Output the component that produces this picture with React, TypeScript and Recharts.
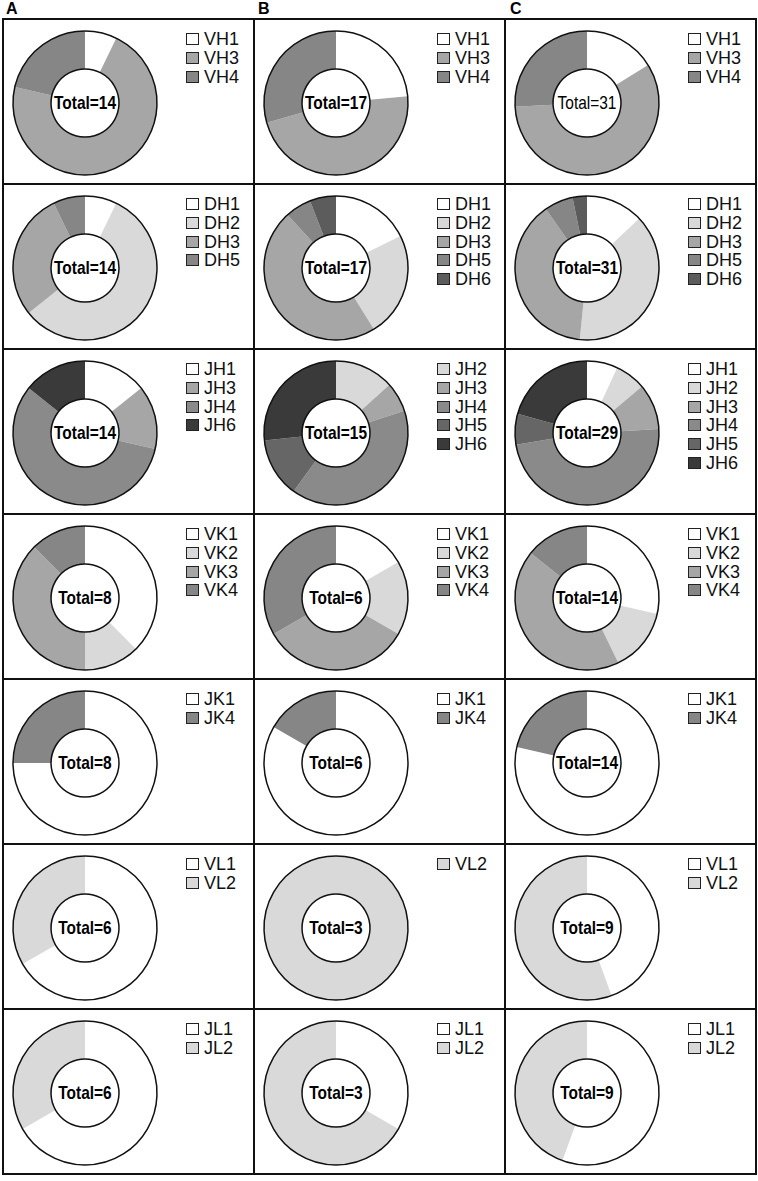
import React from "react";
import { PieChart, Pie, Cell, Legend } from "recharts";

const FONT = "'Liberation Sans', Arial, Helvetica, sans-serif";

const columnLabels = ["A", "B", "C"];

const vhLabels = ["VH1", "VH3", "VH4"];
const vhA = [1, 10, 3];
const vhB = [4, 8, 5];
const vhC = [5, 18, 8];

const dhLabelsA = ["DH1", "DH2", "DH3", "DH5"];
const dhLabels = ["DH1", "DH2", "DH3", "DH5", "DH6"];
const dhA = [1, 8, 4, 1];
const dhB = [3, 4, 8, 1, 1];
const dhC = [4, 12, 12, 2, 1];

const jhLabelsA = ["JH1", "JH3", "JH4", "JH6"];
const jhLabelsB = ["JH2", "JH3", "JH4", "JH5", "JH6"];
const jhLabelsC = ["JH1", "JH2", "JH3", "JH4", "JH5", "JH6"];
const jhA = [2, 2, 8, 2];
const jhB = [2, 1, 6, 2, 4];
const jhC = [2, 2, 3, 14, 2, 6];

const vkLabels = ["VK1", "VK2", "VK3", "VK4"];
const vkA = [3, 1, 3, 1];
const vkB = [1, 1, 2, 2];
const vkC = [4, 2, 6, 2];

const jkLabels = ["JK1", "JK4"];
const jkA = [6, 2];
const jkB = [5, 1];
const jkC = [11, 3];

const vlLabels = ["VL1", "VL2"];
const vlLabelsB = ["VL2"];
const vlA = [4, 2];
const vlB = [3];
const vlC = [4, 5];

const jlLabels = ["JL1", "JL2"];
const jlA = [4, 2];
const jlB = [1, 2];
const jlC = [5, 4];

const WHITE = "#ffffff";
const LIGHT = "#d9d9d9";
const MID = "#a6a6a6";
const DARK1 = "#868686";
const DARK2 = "#666666";
const DARK3 = "#3a3a3a";

const colors: Record<string, string> = {
  VH1: WHITE, VH3: MID, VH4: DARK1,
  DH1: WHITE, DH2: LIGHT, DH3: MID, DH5: DARK1, DH6: "#5c5c5c",
  JH1: WHITE, JH2: LIGHT, JH3: MID, JH4: "#8a8a8a", JH5: DARK2, JH6: DARK3,
  VK1: WHITE, VK2: LIGHT, VK3: MID, VK4: DARK1,
  JK1: WHITE, JK4: DARK1,
  VL1: WHITE, VL2: LIGHT,
  JL1: WHITE, JL2: LIGHT,
};

type PanelSpec = { labels: string[]; values: number[]; bold?: boolean };

const rows: PanelSpec[][] = [
  [{ labels: vhLabels, values: vhA }, { labels: vhLabels, values: vhB }, { labels: vhLabels, values: vhC, bold: false }],
  [{ labels: dhLabelsA, values: dhA }, { labels: dhLabels, values: dhB }, { labels: dhLabels, values: dhC }],
  [{ labels: jhLabelsA, values: jhA }, { labels: jhLabelsB, values: jhB }, { labels: jhLabelsC, values: jhC }],
  [{ labels: vkLabels, values: vkA }, { labels: vkLabels, values: vkB }, { labels: vkLabels, values: vkC }],
  [{ labels: jkLabels, values: jkA }, { labels: jkLabels, values: jkB }, { labels: jkLabels, values: jkC }],
  [{ labels: vlLabels, values: vlA }, { labels: vlLabelsB, values: vlB }, { labels: vlLabels, values: vlC }],
  [{ labels: jlLabels, values: jlA }, { labels: jlLabels, values: jlB }, { labels: jlLabels, values: jlC }],
];

const PANEL_W = 253;
const PANEL_H = 167;
const STEP_X = 251;
const STEP_Y = 165;
const X0 = 2;
const Y0 = 18;
const BORDER = 2;
const CX = 81;
const CY = 83;
const R_OUT = 72;
const R_IN = 34;

function LegendBox(props: any) {
  const payload = (props.payload || []).filter((p: any) => colors[p.value] !== undefined);
  return (
    <div style={{ fontFamily: FONT, fontSize: 18, color: "#111" }}>
      {payload.map((p: any) => (
        <div key={p.value} style={{ display: "flex", alignItems: "center", height: 18.7 }}>
          <span
            style={{
              display: "inline-block",
              flexShrink: 0,
              width: 11,
              height: 10,
              border: "1.5px solid #222",
              background: colors[p.value],
              marginRight: 5,
            }}
          />
          <span style={{ lineHeight: "18px" }}>{p.value}</span>
        </div>
      ))}
    </div>
  );
}

function Panel({ spec }: { spec: PanelSpec }) {
  const data = spec.labels.map((name, i) => ({ name, value: spec.values[i] }));
  const total = spec.values.reduce((a, b) => a + b, 0);
  const ring = [{ name: "ring", value: 1 }];
  const bold = spec.bold !== false;
  const renderTotal = (p: any) => (
    <g transform={`translate(${p.cx},${p.cy}) scale(0.86,1)`}>
      <text
        x={0}
        y={0}
        textAnchor="middle"
        dominantBaseline="central"
        fontFamily={FONT}
        fontSize={18}
        fontWeight={bold ? "bold" : "normal"}
        fill="#000"
      >
        {`Total=${total}`}
      </text>
    </g>
  );
  return (
    <PieChart
      width={PANEL_W - 2 * BORDER}
      height={PANEL_H - 2 * BORDER}
      margin={{ top: 0, right: 0, bottom: 0, left: 0 }}
    >
      <Pie
        data={data}
        dataKey="value"
        nameKey="name"
        cx={CX}
        cy={CY}
        innerRadius={R_IN}
        outerRadius={R_OUT}
        startAngle={90}
        endAngle={-270}
        stroke="none"
        isAnimationActive={false}
      >
        {data.map((d) => (
          <Cell key={d.name} fill={colors[d.name]} stroke="none" />
        ))}
      </Pie>
      <Pie
        data={ring}
        dataKey="value"
        cx={CX}
        cy={CY}
        innerRadius={R_OUT}
        outerRadius={R_OUT}
        startAngle={90}
        endAngle={-270}
        fill="none"
        stroke="#111"
        strokeWidth={1.5}
        legendType="none"
        isAnimationActive={false}
      />
      <Pie
        data={ring}
        dataKey="value"
        cx={CX}
        cy={CY}
        innerRadius={R_IN}
        outerRadius={R_IN}
        startAngle={90}
        endAngle={-270}
        fill="none"
        stroke="#111"
        strokeWidth={1.5}
        legendType="none"
        isAnimationActive={false}
        label={renderTotal}
        labelLine={false}
      />
      <Legend
        layout="vertical"
        align="right"
        verticalAlign="top"
        content={<LegendBox />}
        wrapperStyle={{ top: 10, left: 182, width: 66, right: "auto" }}
      />
    </PieChart>
  );
}

export default function App() {
  return (
    <div
      style={{
        position: "absolute",
        left: 0,
        top: 0,
        width: 758,
        height: 1181,
        background: "#fff",
        overflow: "hidden",
      }}
    >
      {columnLabels.map((c, i) => (
        <div
          key={c}
          style={{
            position: "absolute",
            left: 6 + i * 252,
            top: 0,
            fontFamily: FONT,
            fontWeight: "bold",
            fontSize: 16,
            color: "#000",
          }}
        >
          {c}
        </div>
      ))}
      {rows.map((row, r) =>
        row.map((spec, c) => (
          <div
            key={`${r}-${c}`}
            style={{
              position: "absolute",
              left: X0 + c * STEP_X,
              top: Y0 + r * STEP_Y,
              width: PANEL_W,
              height: PANEL_H,
              border: `${BORDER}px solid #111`,
              boxSizing: "border-box",
              background: "#fff",
            }}
          >
            <Panel spec={spec} />
          </div>
        ))
      )}
    </div>
  );
}
